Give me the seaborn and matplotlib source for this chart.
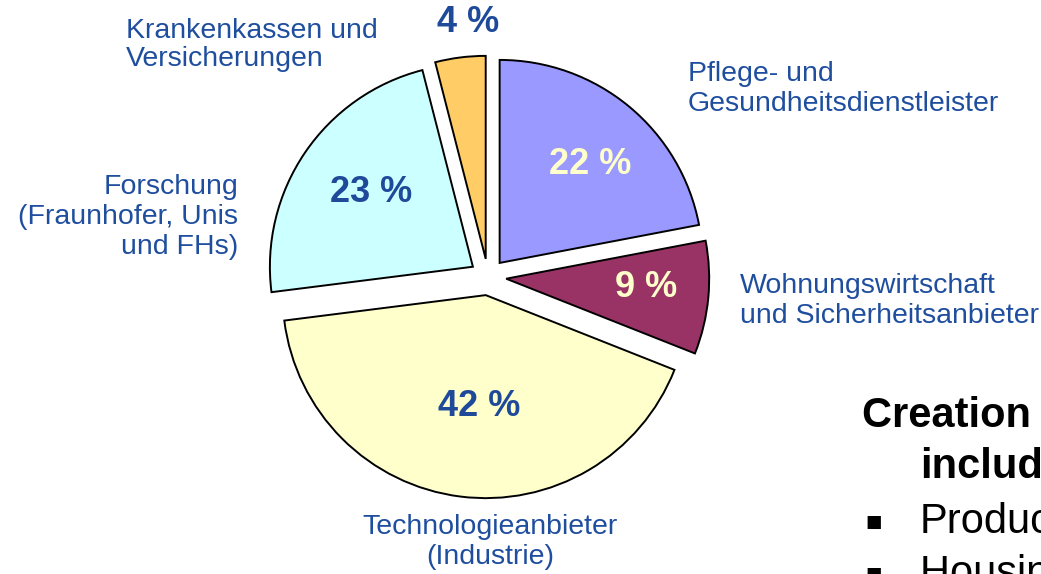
import numpy as np
import matplotlib
matplotlib.use('Agg')
import matplotlib.pyplot as plt
import seaborn as sns

# Pie data (clockwise from the top)
groups = ['Pflege- und\nGesundheitsdienstleister',
          'Wohnungswirtschaft\nund Sicherheitsanbieter',
          'Technologieanbieter\n(Industrie)',
          'Forschung\n(Fraunhofer, Unis\nund FHs)',
          'Krankenkassen und\nVersicherungen']
shares = [22, 9, 42, 23, 4]
colors = ['#9999FF', '#993366', '#FFFFCC', '#CCFFFF', '#FFCC66']
pct_colors = ['#FFFFCC', '#FFFFCC', '#1F4A9A', '#1F4A9A', '#1F4A9A']

side_title = 'Creation of a network'
side_title2 = 'including:'
side_bullets = ['Producers', 'Housing industry']

sns.set_style('white')
plt.rcParams['font.family'] = ['Liberation Sans', 'DejaVu Sans']

W, H = 1041, 574
fig = plt.figure(figsize=(W / 100, H / 100), dpi=100)
ax = fig.add_axes([0, 0, 1, 1])

cx, cy, r = 488, H - 277, 203
# explode offsets are in data units here (pixels)
wedges, _ = ax.pie(shares, colors=colors, startangle=90, counterclock=False,
                   explode=[0.09 * r] * len(shares), center=(cx, cy), radius=r,
                   wedgeprops=dict(edgecolor='black', linewidth=1.4),
                   frame=True)
ax.set_xlim(0, W)
ax.set_ylim(0, H)
ax.set_aspect('equal')
ax.axis('off')

# percentage labels near each wedge's middle angle (distance, angle nudge)
pct_dist = [0.66, 0.69, 0.55, 0.62, 1.17]
pct_turn = [-3, 2, 4, -2, -3]
for w, s, d, t, c in zip(wedges, shares, pct_dist, pct_turn, pct_colors):
    mid = np.deg2rad((w.theta1 + w.theta2) / 2 + t)
    wx, wy = w.center
    ax.text(wx + d * r * np.cos(mid), wy + d * r * np.sin(mid), f'{s} %',
            ha='center', va='center', fontsize=26, fontweight='bold', color=c)

blue = '#1F4E9E'
fs = 20.5
ax.text(688, H - 89, groups[0], ha='left', va='center', fontsize=fs, color=blue)
ax.text(740, H - 301, groups[1], ha='left', va='center', fontsize=fs, color=blue)
ax.text(490, H - 542, groups[2], ha='center', va='center', fontsize=fs, color=blue)
ax.text(238, H - 217, groups[3], ha='right', va='center', fontsize=fs, color=blue,
        multialignment='right')
ax.text(126, H - 45, groups[4], ha='left', va='center', fontsize=fs, color=blue,
        linespacing=1.12)

# clipped slide text at the bottom right
ax.text(862, H - 416, side_title, ha='left', va='center', fontsize=30,
        fontweight='bold', color='black')
ax.text(920, H - 467, side_title2, ha='left', va='center', fontsize=30,
        fontweight='bold', color='black')
for i, b in enumerate(side_bullets):
    y = H - 522 - 52 * i
    ax.text(865, y, '\u25a0', ha='left', va='center', fontsize=12.5, color='black',
            family='DejaVu Sans')
    ax.text(920, y, b, ha='left', va='center', fontsize=30, color='black')

fig.savefig('out.png', dpi=100)
